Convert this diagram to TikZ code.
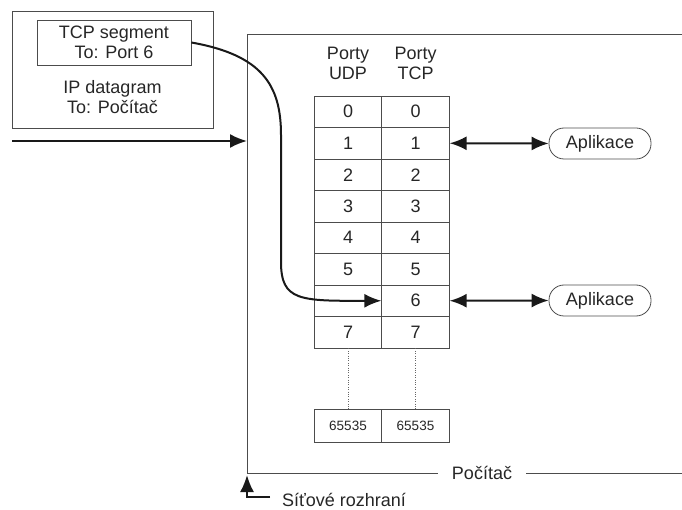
\documentclass[tikz,border=0pt]{standalone}
\usepackage{fontspec}
\setmainfont{Liberation Sans}
\usetikzlibrary{arrows.meta,positioning}

\tikzset{
  box/.style={draw=black!70, line width=0.8pt},
  txt/.style={font=\fontsize{18}{20}\selectfont, align=center, inner sep=0pt, text=black!85},
  cell/.style={box, txt, minimum width=67.5pt, minimum height=31.5pt},
  smallcell/.style={box, font=\fontsize{13.5}{13.5}\selectfont, text=black!85, inner sep=0pt, minimum width=67.5pt, minimum height=33pt},
  app/.style={box, txt, rounded corners=15pt, minimum width=102pt, minimum height=31pt},
  flow/.style={line width=2pt, black!90, -{Latex[length=17pt,width=14pt]}},
  twoway/.style={line width=2pt, black!90, {Latex[length=17pt,width=14pt]}-{Latex[length=17pt,width=14pt]}},
}

\begin{document}
\begin{tikzpicture}[x=1pt,y=-1pt]
  \useasboundingbox (0,0) rectangle (682,510);

  % IP datagram with TCP segment
  \node[box, minimum width=201pt, minimum height=117pt] (ip) at (112.5,69.5) {};
  \node[box, txt, minimum width=154pt, minimum height=45pt] (tcp) at (114,42.5) {TCP segment\\To: Port 6};
  \node[txt] (iptext) at (112.5,97) {IP datagram\\To: Počítač};

  % Computer
  \coordinate (nic) at (247,141);
  \node[txt, inner xsep=14pt] (pc) at (482,473) {Počítač};
  \draw[box] (682,34) -- (247,34) -- (247,473) -- (pc.west);
  \draw[box] (pc.east) -- (682,473);

  % Incoming datagram
  \coordinate (in) at (12,141);
  \draw[flow] (in) -- (nic);

  % Port headers
  \node[txt] (hudp) at (348,63) {Porty\\UDP};
  \node[txt] (htcp) at (415.5,63) {Porty\\TCP};

  % Port table
  \foreach \i in {0,...,7} {
    \node[cell] (udp\i) at (348,{111.75+31.5*\i}) {\ifnum\i=6 \else\i\fi};
    \node[cell] (tcp\i) at (415.5,{111.75+31.5*\i}) {\i};
  }
  \node[smallcell] (udpmax) at (348,425.5) {65535};
  \node[smallcell] (tcpmax) at (415.5,425.5) {65535};
  \draw[dotted, black!60] (udp7.south) -- (udpmax.north);
  \draw[dotted, black!60] (tcp7.south) -- (tcpmax.north);

  % Applications
  \node[app] (app1) at (600,143.5) {Aplikace};
  \node[app] (app6) at (600,300.5) {Aplikace};
  \draw[twoway] (tcp1.east) -- (app1.west);
  \draw[twoway] (tcp6.east) -- (app6.west);

  % TCP segment to port 6
  \draw[flow] (tcp.east) .. controls (262,55) and (281,85) .. (281,135) -- (281,262)
    .. controls (281,301) and (300,301) .. (tcp6.west);

  % Network interface
  \coordinate (nicdown) at (247,475);
  \node[txt, anchor=west] (niclabel) at (282,500) {Síťové rozhraní};
  \draw[flow] (270,497) -- (247,497) -- (nicdown);
\end{tikzpicture}
\end{document}
